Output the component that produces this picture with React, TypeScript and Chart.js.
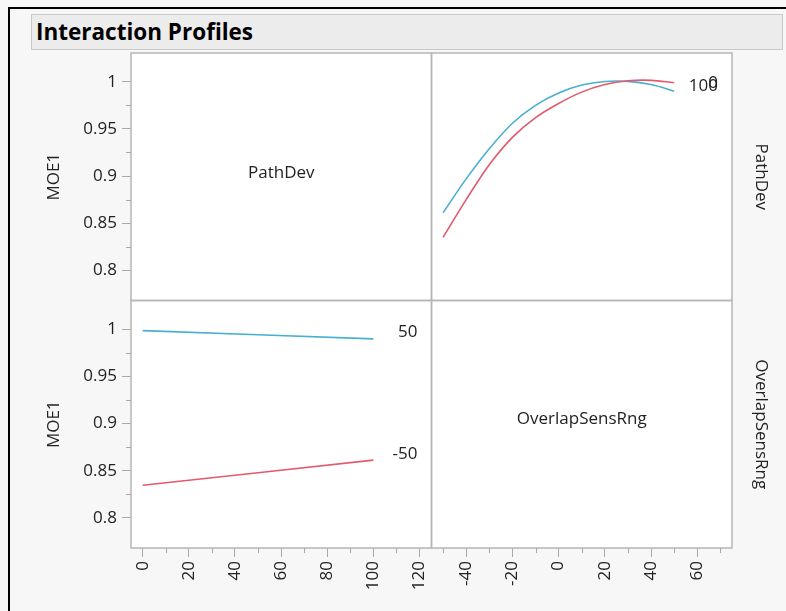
import React, { useEffect, useRef } from 'react';
import { Chart, registerables } from 'chart.js';
Chart.register(...registerables);

// ---- data ----
const OSR_X = [-50, -40, -30, -20, -10, 0, 10, 20, 30, 40, 50];
const PATHDEV0_MOE = [0.835, 0.875, 0.912, 0.941, 0.962, 0.977, 0.989, 0.997, 1.001, 1.0015, 0.999];
const PATHDEV100_MOE = [0.861, 0.897, 0.929, 0.956, 0.975, 0.988, 0.9965, 1.0003, 1.0004, 0.997, 0.990];
const PATHDEV_X = [0, 100];
const OSR_NEG50_MOE = [0.8345, 0.8612];
const OSR_POS50_MOE = [0.9985, 0.9898];
const Y_TICKS = [0.8, 0.85, 0.9, 0.95, 1];
const Y_MINOR = [0.825, 0.875, 0.925, 0.975];
const PATHDEV_TICKS = [0, 20, 40, 60, 80, 100, 120];
const PATHDEV_MINOR = [10, 30, 50, 70, 90, 110];
const OSR_TICKS = [-40, -20, 0, 20, 40, 60];
const OSR_MINOR = [-50, -30, -10, 10, 30, 50, 70];
const FACTORS = ['PathDev', 'OverlapSensRng'];
const RESPONSE = 'MOE1';
const PATHDEV_LEVELS = ['0', '100'];
const OSR_LEVELS = ['-50', '50'];
const TITLE = 'Interaction Profiles';

const RED = '#e15a6e';
const BLUE = '#48afd0';
const FONT = '"Open Sans", "Noto Sans", sans-serif';
const TEXT = '#222222';
const FRAME = '#b6b6b6';
const TICKC = '#a8a8a8';

const profilePlugin = {
  id: 'profile',
  beforeDraw(chart: any) {
    const { ctx, chartArea: a } = chart;
    ctx.save();
    ctx.fillStyle = '#ffffff';
    ctx.fillRect(a.left, a.top, a.right - a.left, a.bottom - a.top);
    ctx.restore();
  },
  afterDraw(chart: any) {
    const { ctx } = chart;
    const s = chart.scales;
    const xL = s.xL, xR = s.xR, yT = s.yT, yB = s.yB;
    ctx.save();
    // panel frames
    ctx.strokeStyle = FRAME;
    ctx.lineWidth = 1.5;
    for (const x of [xL, xR]) {
      for (const y of [yT, yB]) {
        ctx.strokeRect(x.left, y.top, x.right - x.left, y.bottom - y.top);
      }
    }
    // minor ticks
    ctx.strokeStyle = TICKC;
    ctx.lineWidth = 1;
    ctx.beginPath();
    for (const ys of [yT, yB]) {
      for (const v of Y_MINOR) {
        const p = Math.round(ys.getPixelForValue(v)) + 0.5;
        ctx.moveTo(ys.right - 5, p);
        ctx.lineTo(ys.right, p);
      }
    }
    for (const v of PATHDEV_MINOR) {
      const p = Math.round(xL.getPixelForValue(v)) + 0.5;
      ctx.moveTo(p, xL.top);
      ctx.lineTo(p, xL.top + 5);
    }
    for (const v of OSR_MINOR) {
      const p = Math.round(xR.getPixelForValue(v)) + 0.5;
      ctx.moveTo(p, xR.top);
      ctx.lineTo(p, xR.top + 5);
    }
    ctx.stroke();

    ctx.fillStyle = TEXT;
    ctx.font = `17px ${FONT}`;
    ctx.textAlign = 'center';
    ctx.textBaseline = 'middle';
    // diagonal factor names
    ctx.fillText(FACTORS[0], (xL.left + xL.right) / 2, (yT.top + yT.bottom) / 2 - 4);
    ctx.fillText(FACTORS[1], (xR.left + xR.right) / 2, (yB.top + yB.bottom) / 2 - 5);
    // response titles
    for (const ys of [yT, yB]) {
      ctx.save();
      ctx.translate(54, (ys.top + ys.bottom) / 2);
      ctx.rotate(-Math.PI / 2);
      ctx.fillText(RESPONSE, 0, 0);
      ctx.restore();
    }
    // row factor labels on right
    [yT, yB].forEach((ys, i) => {
      ctx.save();
      ctx.translate(761, (ys.top + ys.bottom) / 2);
      ctx.rotate(Math.PI / 2);
      ctx.fillText(FACTORS[i], 0, 0);
      ctx.restore();
    });
    // line-end level labels
    ctx.textAlign = 'right';
    const offs = [0, -5, -6, -7];
    chart.data.datasets.forEach((ds: any, i: number) => {
      const meta = chart.getDatasetMeta(i);
      const last = ds.data[ds.data.length - 1];
      const xs = chart.scales[meta.xAxisID];
      const ys = chart.scales[meta.yAxisID];
      const py = ys.getPixelForValue(last.y);
      ctx.fillText(ds.endLabel, xs.right - 14, py + offs[i]);
    });
    ctx.restore();
  },
};

export default function App() {
  const ref = useRef<HTMLCanvasElement | null>(null);
  useEffect(() => {
    document.body.style.margin = '0';
    const tickFont = { family: FONT, size: 17 };
    const grid = { drawOnChartArea: false, drawTicks: true, tickLength: 9, color: TICKC, tickColor: TICKC };
    const xCommon = (ticks: number[]) => ({
      type: 'linear',
      position: 'bottom',
      stack: 'bottom',
      stackWeight: 1,
      afterBuildTicks: (sc: any) => { sc.ticks = ticks.map((v) => ({ value: v })); },
      afterFit: (sc: any) => { sc.height = 63; },
      ticks: { autoSkip: false, minRotation: 90, maxRotation: 90, padding: 4, font: tickFont, color: TEXT, callback: (v: any) => String(v) },
      grid,
      border: { display: false },
    });
    const yCommon = () => ({
      type: 'linear',
      position: 'left',
      stack: 'left',
      stackWeight: 1,
      min: 0.768,
      max: 1.0305,
      afterBuildTicks: (sc: any) => { sc.ticks = Y_TICKS.map((v) => ({ value: v })); },
      afterFit: (sc: any) => { sc.width = 131; },
      ticks: { padding: 5, font: tickFont, color: TEXT, callback: (v: any) => String(v) },
      grid,
      border: { display: false },
    });
    const line = { pointRadius: 0, borderWidth: 1.6, fill: false, tension: 0.35 };
    const chart = new Chart(ref.current as HTMLCanvasElement, {
      type: 'line',
      data: {
        datasets: [
          { ...line, label: 'PathDev=0', endLabel: PATHDEV_LEVELS[0], borderColor: RED, xAxisID: 'xR', yAxisID: 'yT',
            data: OSR_X.map((x, i) => ({ x, y: PATHDEV0_MOE[i] })) },
          { ...line, label: 'PathDev=100', endLabel: PATHDEV_LEVELS[1], borderColor: BLUE, xAxisID: 'xR', yAxisID: 'yT',
            data: OSR_X.map((x, i) => ({ x, y: PATHDEV100_MOE[i] })) },
          { ...line, label: 'OverlapSensRng=-50', endLabel: OSR_LEVELS[0], borderColor: RED, xAxisID: 'xL', yAxisID: 'yB',
            data: PATHDEV_X.map((x, i) => ({ x, y: OSR_NEG50_MOE[i] })) },
          { ...line, label: 'OverlapSensRng=50', endLabel: OSR_LEVELS[1], borderColor: BLUE, xAxisID: 'xL', yAxisID: 'yB',
            data: PATHDEV_X.map((x, i) => ({ x, y: OSR_POS50_MOE[i] })) },
        ] as any,
      },
      options: {
        animation: false,
        responsive: false,
        devicePixelRatio: 1,
        layout: { padding: { top: 53, right: 54, left: 0, bottom: 0 }, autoPadding: false },
        plugins: { legend: { display: false }, tooltip: { enabled: false } },
        scales: {
          xL: { ...xCommon(PATHDEV_TICKS), min: -5.06, max: 125.2, weight: 0 },
          xR: { ...xCommon(OSR_TICKS), min: -55, max: 75, weight: 1 },
          yT: { ...yCommon(), weight: 1 },
          yB: { ...yCommon(), weight: 0 },
        } as any,
      },
      plugins: [profilePlugin],
    });
    return () => chart.destroy();
  }, []);

  return (
    <div style={{ position: 'relative', width: 786, height: 611, background: '#f7f7f7', overflow: 'hidden' }}>
      <div style={{ position: 'absolute', left: 8, top: 7, width: 778, height: 2, background: '#000' }} />
      <div style={{ position: 'absolute', left: 8, top: 7, width: 2, height: 604, background: '#000' }} />
      <div
        style={{
          position: 'absolute', left: 31, top: 14, width: 752, height: 36, boxSizing: 'border-box',
          background: '#ececec', border: '1px solid #c9c9c9', fontFamily: FONT, fontWeight: 700,
          fontSize: 22.5, lineHeight: '34px', paddingLeft: 4, color: '#000', whiteSpace: 'nowrap',
        }}
      >
        {TITLE}
      </div>
      <canvas ref={ref} width={786} height={611} style={{ position: 'absolute', left: 0, top: 0 }} />
    </div>
  );
}
